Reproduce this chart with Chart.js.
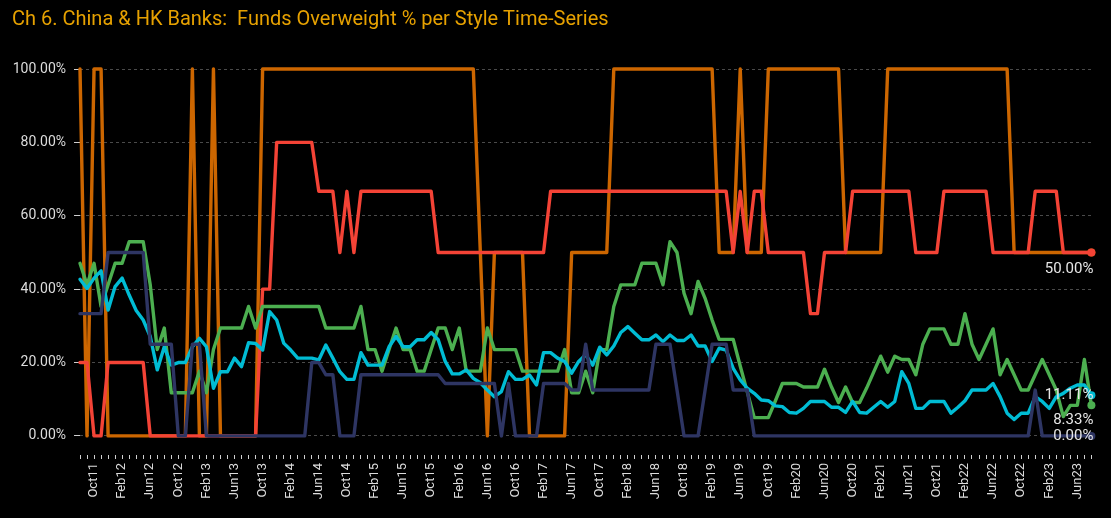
<!DOCTYPE html>
<html>
<head>
<meta charset="utf-8">
<script src="https://cdn.jsdelivr.net/npm/chart.js@4.4.0/dist/chart.umd.min.js"></script>
<style>
  html, body { margin: 0; padding: 0; background: #000; }
  #wrap { position: relative; width: 1111px; height: 518px; }
</style>
</head>
<body>
<div id="wrap"><canvas id="graph"></canvas></div>
<script>
// monthly observations, Aug11 .. Aug23
const monthNames = ["Jan", "Feb", "Mar", "Apr", "May", "Jun", "Jul", "Aug", "Sep", "Oct", "Nov", "Dec"];
const firstYear = 11;
const firstMonth = 7; // Aug
const monthCount = 145;

const categories = [];
for (let k = 0; k < monthCount; k++) {
  const m = (firstMonth + k) % 12;
  const y = firstYear + Math.floor((firstMonth + k) / 12);
  categories.push(monthNames[m] + String(y).padStart(2, "0"));
}

const yTicks = [0, 20, 40, 60, 80, 100];

const aggressiveGrowth = [
  100, 0, 100, 100, 0, 0, 0, 0, 0, 0,
  0, 0, 0, 0, 0, 0, 100, 0, 0, 100,
  0, 0, 0, 0, 0, 0, 100, 100, 100, 100,
  100, 100, 100, 100, 100, 100, 100, 100, 100, 100,
  100, 100, 100, 100, 100, 100, 100, 100, 100, 100,
  100, 100, 100, 100, 100, 100, 100, 50, 0, 50,
  50, 50, 50, 50, 0, 0, 0, 0, 0, 0,
  50, 50, 50, 50, 50, 50, 100, 100, 100, 100,
  100, 100, 100, 100, 100, 100, 100, 100, 100, 100,
  100, 50, 50, 50, 100, 50, 50, 50, 100, 100,
  100, 100, 100, 100, 100, 100, 100, 100, 100, 50,
  50, 50, 50, 50, 50, 100, 100, 100, 100, 100,
  100, 100, 100, 100, 100, 100, 100, 100, 100, 100,
  100, 100, 100, 50, 50, 50, 50, 50, 50, 50,
  50, 50, 50, 50, 50
];

const growth = [
  20, 20, 0, 0, 20, 20, 20, 20, 20, 20,
  0, 0, 0, 0, 0, 0, 0, 0, 0, 0,
  0, 0, 0, 0, 0, 0, 40, 40, 80, 80,
  80, 80, 80, 80, 66.67, 66.67, 66.67, 50, 66.67, 50,
  66.67, 66.67, 66.67, 66.67, 66.67, 66.67, 66.67, 66.67, 66.67, 66.67,
  66.67, 50, 50, 50, 50, 50, 50, 50, 50, 50,
  50, 50, 50, 50, 50, 50, 50, 66.67, 66.67, 66.67,
  66.67, 66.67, 66.67, 66.67, 66.67, 66.67, 66.67, 66.67, 66.67, 66.67,
  66.67, 66.67, 66.67, 66.67, 66.67, 66.67, 66.67, 66.67, 66.67, 66.67,
  66.67, 66.67, 66.67, 50, 66.67, 50, 66.67, 66.67, 50, 50,
  50, 50, 50, 50, 33.33, 33.33, 50, 50, 50, 50,
  66.67, 66.67, 66.67, 66.67, 66.67, 66.67, 66.67, 66.67, 66.67, 50,
  50, 50, 50, 66.67, 66.67, 66.67, 66.67, 66.67, 66.67, 66.67,
  50, 50, 50, 50, 50, 50, 66.67, 66.67, 66.67, 66.67,
  50, 50, 50, 50, 50
];

const garp = [
  47.06, 41.18, 47.06, 35.29, 41.18, 47.06, 47.06, 52.94, 52.94, 52.94,
  41.18, 23.53, 29.41, 11.76, 11.76, 11.76, 11.76, 17.65, 11.76, 23.53,
  29.41, 29.41, 29.41, 29.41, 35.29, 29.41, 35.29, 35.29, 35.29, 35.29,
  35.29, 35.29, 35.29, 35.29, 35.29, 29.41, 29.41, 29.41, 29.41, 29.41,
  35.29, 23.53, 23.53, 17.65, 23.53, 29.41, 23.53, 23.53, 17.65, 17.65,
  23.53, 29.41, 29.41, 23.53, 29.41, 17.65, 17.65, 17.65, 29.41, 23.53,
  23.53, 23.53, 23.53, 17.65, 17.65, 17.65, 17.65, 17.65, 17.65, 23.53,
  11.76, 11.76, 17.65, 11.76, 23.53, 23.53, 35.29, 41.18, 41.18, 41.18,
  47.06, 47.06, 47.06, 41.18, 52.94, 50, 38.89, 33.33, 42.11, 37.5,
  31.58, 26.32, 26.32, 26.32, 19.05, 12, 5, 5, 5, 9.52,
  14.29, 14.29, 14.29, 13.33, 13.33, 13.33, 18.18, 13.33, 9.09, 13.33,
  9.09, 9.09, 13.04, 17.39, 21.74, 17.39, 21.74, 20.83, 20.83, 16.67,
  25, 29.17, 29.17, 29.17, 25, 25, 33.33, 25, 20.83, 25,
  29.17, 16.67, 20.83, 16.67, 12.5, 12.5, 16.67, 20.83, 16.67, 12.5,
  5.26, 8.33, 8.33, 20.83, 8.33
];

const value = [
  42.7, 40.2, 43, 45, 34.3, 40.7, 43, 38.4, 34.2, 31.6,
  27.1, 18, 24.3, 19.3, 20, 20, 24.3, 26.6, 24.3, 13,
  17.5, 17.5, 21.2, 18.9, 25.4, 25.2, 23.4, 33.9, 31.6, 25.3,
  23.4, 21.2, 21.2, 21.2, 20.7, 24.8, 21.2, 17.5, 15.4, 15.4,
  22.7, 19.3, 19.3, 19.3, 24.3, 27.1, 24.3, 24.3, 26.2, 26.2,
  28.2, 26.2, 20.3, 16.9, 16.9, 18, 15.7, 14.5, 12.5, 10.7,
  12.1, 17.5, 15.4, 15.4, 16.6, 13.9, 22.7, 22.7, 21.2, 20.3,
  17.1, 20.3, 22.1, 19.3, 24.2, 22.1, 24.5, 28.2, 29.8, 28,
  26.2, 26.2, 27.5, 25.7, 27.5, 26, 26, 27.5, 24.5, 24.5,
  20.3, 23.9, 23.4, 18.4, 15.3, 13, 11.6, 9.8, 9.6, 8.2,
  8, 6.4, 6.2, 7.5, 9.4, 9.4, 9.4, 7.8, 7.8, 6.4,
  9.4, 6.4, 6.2, 7.8, 9.4, 7.8, 9.4, 17.5, 14.3, 7.5,
  7.5, 9.4, 9.4, 9.4, 6.2, 7.8, 9.6, 12.5, 12.5, 12.5,
  14.3, 10.7, 6.2, 4.5, 6.2, 6.2, 10.7, 9.4, 7.5, 10.7,
  11.6, 13, 13.9, 13.9, 11.11
];

const yieldStyle = [
  33.33, 33.33, 33.33, 33.33, 50, 50, 50, 50, 50, 50,
  25, 25, 25, 25, 0, 0, 25, 25, 0, 0,
  0, 0, 0, 0, 0, 0, 0, 0, 0, 0,
  0, 0, 0, 20, 20, 16.67, 16.67, 0, 0, 0,
  16.67, 16.67, 16.67, 16.67, 16.67, 16.67, 16.67, 16.67, 16.67, 16.67,
  16.67, 16.67, 14.29, 14.29, 14.29, 14.29, 14.29, 14.29, 14.29, 14.29,
  0, 14.29, 0, 0, 0, 0, 14.29, 14.29, 14.29, 14.29,
  12.5, 12.5, 25, 12.5, 12.5, 12.5, 12.5, 12.5, 12.5, 12.5,
  12.5, 12.5, 25, 25, 25, 12.5, 0, 0, 0, 12.5,
  25, 25, 25, 12.5, 12.5, 12.5, 0, 0, 0, 0,
  0, 0, 0, 0, 0, 0, 0, 0, 0, 0,
  0, 0, 0, 0, 0, 0, 0, 0, 0, 0,
  0, 0, 0, 0, 0, 0, 0, 0, 0, 0,
  0, 0, 0, 0, 0, 0, 12.5, 0, 0, 0,
  0, 0, 0, 0, 0
];

const textFont = "Roboto, 'Noto Sans', sans-serif";

// vertical nudge of the last-value labels, per series
const endLabelShift = { "Growth": 17, "GARP": 15, "Value": 0, "Yield": 0 };

const lastPointOnly = (ctx) => (ctx.dataIndex === monthCount - 1 ? 4 : 0);

const makeLine = (label, data, color) => ({
  label: label,
  data: data,
  borderColor: color,
  backgroundColor: color,
  borderWidth: 3.4,
  borderJoinStyle: "round",
  borderCapStyle: "round",
  tension: 0,
  pointRadius: lastPointOnly,
  pointHoverRadius: lastPointOnly,
  pointBorderWidth: 0,
  clip: false,
});

const endLabels = {
  id: "endLabels",
  afterDatasetsDraw(chart) {
    const c = chart.ctx;
    c.save();
    c.font = "15px " + textFont;
    c.fillStyle = "#e6e6e6";
    c.textAlign = "right";
    c.textBaseline = "middle";
    chart.data.datasets.forEach((ds, k) => {
      if (!(ds.label in endLabelShift)) return;
      const meta = chart.getDatasetMeta(k);
      const pt = meta.data[meta.data.length - 1];
      const v = ds.data[ds.data.length - 1];
      c.fillText(v.toFixed(2) + "%", chart.chartArea.right + 2, pt.y + endLabelShift[ds.label]);
    });
    c.restore();
  },
};

const graph = document.getElementById("graph");

new Chart(graph.getContext("2d"), {
  type: "line",
  data: {
    labels: categories,
    datasets: [
      makeLine("Yield", yieldStyle, "#2e3563"),
      makeLine("Value", value, "#00bcd4"),
      makeLine("GARP", garp, "#4caf50"),
      makeLine("Growth", growth, "#f44336"),
      makeLine("Aggressive Growth", aggressiveGrowth, "#cc6600"),
    ],
  },
  options: {
    responsive: true,
    maintainAspectRatio: false,
    devicePixelRatio: 1,
    animation: false,
    layout: { padding: { left: 12, right: 7, top: 0, bottom: 0 } },
    plugins: {
      legend: { display: false },
      tooltip: { enabled: false },
      title: {
        display: true,
        text: "Ch 6. China & HK Banks:  Funds Overweight % per Style Time-Series",
        align: "start",
        color: "#e6a100",
        font: { family: textFont, size: 20, weight: "normal" },
        padding: { top: 8, bottom: 29.7 },
      },
    },
    scales: {
      x: {
        offset: false,
        border: { display: false },
        grid: {
          display: true,
          drawOnChartArea: false,
          drawTicks: true,
          tickLength: 4,
          tickColor: "#d0d0d0",
          tickWidth: 1,
        },
        ticks: {
          autoSkip: false,
          minRotation: 90,
          maxRotation: 90,
          padding: 4,
          color: "#dcdcdc",
          font: { family: textFont, size: 13 },
          callback: (val, i) => ((i - 2) % 4 === 0 ? categories[i] : ""),
        },
        afterFit: (s) => { s.height = 63; },
      },
      y: {
        min: -5.2,
        max: 102,
        afterBuildTicks: (s) => { s.ticks = yTicks.map((v) => ({ value: v })); },
        border: { display: false, dash: [3, 3] },
        grid: {
          color: "#4a4a4a",
          lineWidth: 1,
          drawTicks: true,
          tickLength: 6,
          tickColor: "#cfcfcf",
        },
        ticks: {
          padding: 8,
          color: "#dcdcdc",
          font: { family: textFont, size: 14 },
          callback: (v) => Number(v).toFixed(2) + "%",
        },
        afterFit: (s) => { s.width = 68; },
      },
    },
  },
  plugins: [endLabels],
});
</script>
</body>
</html>
